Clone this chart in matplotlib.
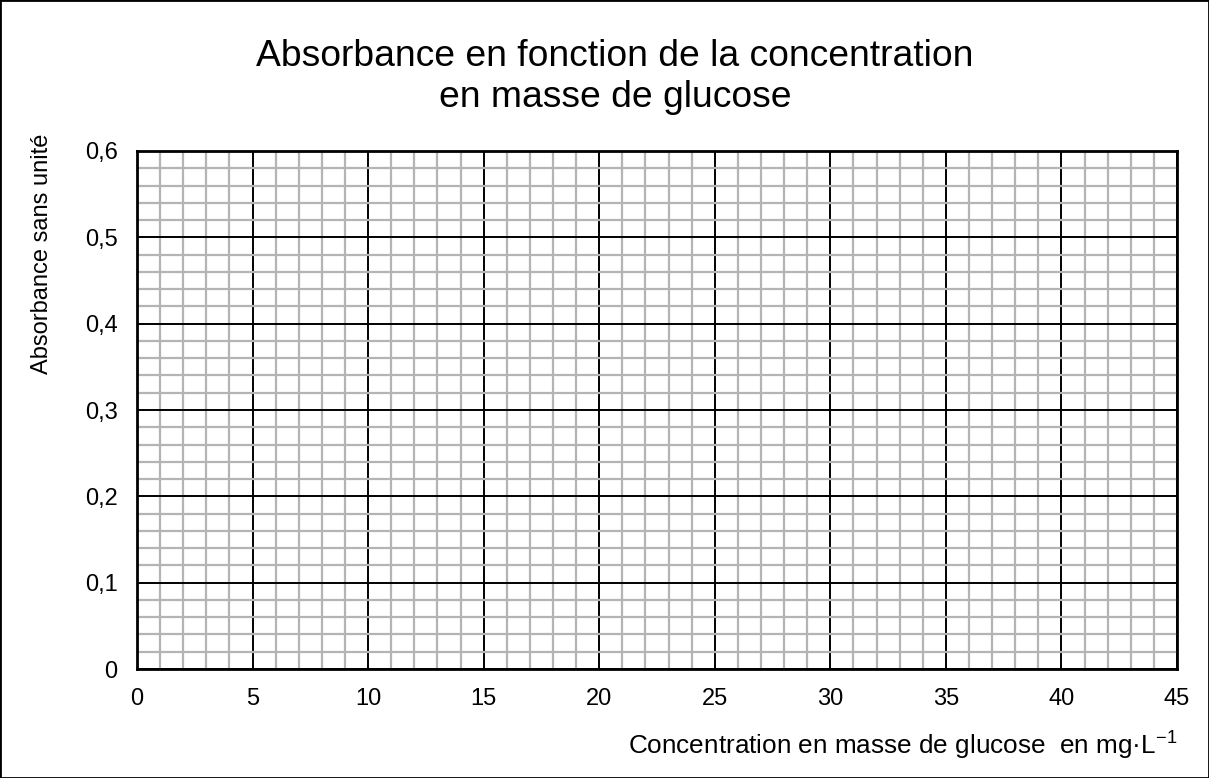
import matplotlib.pyplot as plt
import numpy as np
from matplotlib.patches import Rectangle

# axis settings
x_range = [0, 45]
y_range = [0, 0.6]
x_major = [0, 5, 10, 15, 20, 25, 30, 35, 40, 45]
y_major = [0, 0.1, 0.2, 0.3, 0.4, 0.5, 0.6]
y_labels = ['0', '0,1', '0,2', '0,3', '0,4', '0,5', '0,6']
x_minor_step = 1
y_minor_step = 0.02

plt.rcParams['font.family'] = ['Liberation Sans', 'DejaVu Sans']

fig = plt.figure(figsize=(12.09, 7.78), dpi=100)
ax = fig.add_axes([137/1209, 1-669/778, (1177-137)/1209, (669-151)/778])

ax.set_xlim(x_range)
ax.set_ylim(y_range)
ax.set_xticks(x_major)
ax.set_xticklabels([str(v) for v in x_major])
ax.set_yticks(y_major)
ax.set_yticklabels(y_labels)
ax.set_xticks(np.arange(x_range[0], x_range[1] + 0.001, x_minor_step), minor=True)
ax.set_yticks(np.arange(y_range[0], y_range[1] + 0.001, y_minor_step), minor=True)

ax.grid(which='minor', color='#b4b4b4', linewidth=1.6)
ax.grid(which='major', color='black', linewidth=1.4)
ax.set_axisbelow(True)
ax.tick_params(which='both', length=0, labelsize=17, pad=14)
for s in ax.spines.values():
    s.set_linewidth(2)
    s.set_color('black')

fig.text(615/1209, 1-77/778, 'Absorbance en fonction de la concentration\nen masse de glucose',
         ha='center', va='center', fontsize=26.8, linespacing=1.2)
fig.text(42/1209, 1-254/778, 'Absorbance sans unité', rotation=90,
         ha='center', va='center', fontsize=17)
fig.text(1177/1209, 1-745/778, 'Concentration en masse de glucose  en mg·L$^{\\mathregular{-1}}$',
         ha='right', va='center', fontsize=18.8)

fig.patches.append(Rectangle((0, 0), 1, 1, transform=fig.transFigure,
                             fill=False, edgecolor='black', linewidth=2))

fig.savefig('out.png', dpi=100)
